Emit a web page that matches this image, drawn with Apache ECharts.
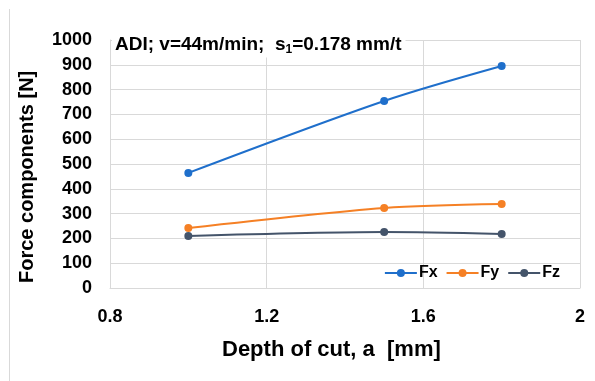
<!DOCTYPE html>
<html>
<head>
<meta charset="utf-8">
<script src="https://cdn.jsdelivr.net/npm/echarts@6/dist/echarts.min.js"></script>
<style>
html,body{margin:0;padding:0;background:#fff;}
#chart{width:595px;height:381px;}
</style>
</head>
<body>
<div id="chart"></div>
<script>
const depth = [1.0, 1.5, 1.8];
const fx = [464, 754, 895];
const fy = [242, 323, 339];
const fz = [210, 226, 218];
const seriesNames = ['Fx', 'Fy', 'Fz'];
const xTickLabels = ['0.8', '1.2', '1.6', '2'];
const yTickLabels = ['0','100','200','300','400','500','600','700','800','900','1000'];

const colors = ['#1f6fcb', '#f58025', '#44546a'];
const font = 'Liberation Sans, Arial, sans-serif';

const chart = echarts.init(document.getElementById('chart'), null, {renderer: 'canvas'});
const mk = (name, data, i) => ({
  name: name,
  type: 'line',
  smooth: 0.3,
  data: depth.map((d, k) => [d, data[k]]),
  symbol: 'circle',
  symbolSize: 8,
  lineStyle: {width: 2, color: colors[i]},
  itemStyle: {color: colors[i]},
  z: 3 + i
});

chart.setOption({
  animation: false,
  backgroundColor: '#fff',
  textStyle: {fontFamily: font},
  title: {
    text: '{b|ADI; v=44m/min;  s}{s|1}{b|=0.178 mm/t}',
    left: 112,
    top: 33,
    padding: [1, 4, 2, 3],
    backgroundColor: '#fff',
    textStyle: {
      rich: {
        b: {fontSize: 19, fontWeight: 'bold', color: '#000', fontFamily: font, lineHeight: 22},
        s: {fontSize: 12, fontWeight: 'bold', color: '#000', fontFamily: font, lineHeight: 22, padding: [9, 0, 0, 0]}
      }
    }
  },
  legend: {
    data: seriesNames,
    right: 30,
    top: 260,
    itemWidth: 32,
    itemHeight: 10,
    itemGap: 8,
    textStyle: {fontSize: 16, fontWeight: 'bold', color: '#000', fontFamily: font, padding: [0, 0, 0, -3]}
  },
  grid: {left: 110, right: 15, top: 40, bottom: 93, containLabel: false, show: false},
  xAxis: {
    type: 'value',
    min: 0.8,
    max: 2.0,
    interval: 0.4,
    axisLine: {show: true, lineStyle: {color: '#d9d9d9', width: 1}},
    axisTick: {show: false},
    splitLine: {show: true, lineStyle: {color: '#d9d9d9', width: 1}},
    axisLabel: {
      fontSize: 18, fontWeight: 'bold', color: '#000', margin: 20, fontFamily: font,
      formatter: v => xTickLabels[Math.round((v - 0.8) / 0.4)]
    }
  },
  yAxis: {
    type: 'value',
    min: 0,
    max: 1000,
    interval: 100,
    axisLine: {show: true, lineStyle: {color: '#d9d9d9', width: 1}},
    axisTick: {show: false},
    splitLine: {show: true, lineStyle: {color: '#d9d9d9', width: 1}},
    axisLabel: {
      fontSize: 18, fontWeight: 'bold', color: '#000', margin: 18, fontFamily: font,
      formatter: v => yTickLabels[Math.round(v / 100)]
    }
  },
  graphic: [
    {type: 'line', shape: {x1: 9.5, y1: 9, x2: 9.5, y2: 381}, style: {stroke: '#d9d9d9', lineWidth: 1}, silent: true},
    {type: 'text', left: 222, top: 339, style: {text: 'Depth of cut, a  [mm]', font: 'bold 22px ' + font, fill: '#000'}},
    {type: 'text', x: 17, y: 283, rotation: Math.PI / 2, style: {text: 'Force components [N]', font: 'bold 20px ' + font, fill: '#000'}}
  ],
  series: [mk('Fx', fx, 0), mk('Fy', fy, 1), mk('Fz', fz, 2)]
});
</script>
</body>
</html>
